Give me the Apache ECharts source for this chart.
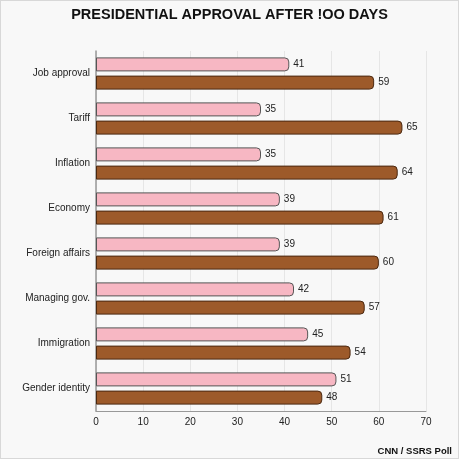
<!DOCTYPE html>
<html><head><meta charset="utf-8">
<script src="https://cdn.jsdelivr.net/npm/echarts@6/dist/echarts.min.js"></script>
<style>html,body{margin:0;padding:0;background:#fff}#c{width:459px;height:459px;box-sizing:border-box;border:1px solid #d8d8d8;background:#f8f8f8}</style>
</head><body><div id="c"></div>
<script>
const categories = ["Job approval","Tariff","Inflation","Economy","Foreign affairs","Managing gov.","Immigration","Gender identity"];
const approve = [41,35,35,39,39,42,45,51];
const disapprove = [59,65,64,61,60,57,54,48];
const xTicks = [0,10,20,30,40,50,60,70];

const chart = echarts.init(document.getElementById('c'), null, {renderer:'canvas'});
const font = 'Liberation Sans, Arial, sans-serif';
chart.setOption({
  backgroundColor: '#f8f8f8',
  animation: false,
  title: [{
    text: 'PRESIDENTIAL APPROVAL AFTER !OO DAYS',
    left: 'center', top: 1,
    textStyle: {fontFamily: font, fontWeight: 'bold', fontSize: 14.5, color: '#111'}
  },{
    text: 'CNN / SSRS Poll',
    right: 1, top: 440,
    textStyle: {fontFamily: font, fontWeight: 'bold', fontSize: 9.5, color: '#111'}
  }],
  grid: {left: 95, right: 32, top: 50, bottom: 47, containLabel: false},
  xAxis: {
    type: 'value', min: xTicks[0], max: xTicks[xTicks.length-1], interval: 10,
    axisLine: {show: true, lineStyle: {color: '#999'}},
    axisTick: {show: false},
    axisLabel: {fontFamily: font, fontSize: 10, color: '#222', margin: 6},
    splitLine: {show: true, lineStyle: {color: '#e6e6e6'}}
  },
  yAxis: {
    type: 'category', data: categories, inverse: true,
    axisLine: {show: true, lineStyle: {color: '#999', width: 1.5}},
    axisTick: {show: false},
    axisLabel: {fontFamily: font, fontSize: 10, color: '#222', margin: 6}
  },
  series: [{
    type: 'bar', data: approve, barWidth: 14, barGap: '30%',
    itemStyle: {color: '#f7b7c3', borderColor: '#555', borderWidth: 1, borderRadius: [0,4,4,0]},
    label: {show: true, position: 'right', fontFamily: font, fontSize: 10, color: '#222', distance: 4}
  },{
    type: 'bar', data: disapprove, barWidth: 14,
    itemStyle: {color: '#9d5a2a', borderColor: '#4a2810', borderWidth: 1, borderRadius: [0,4,4,0]},
    label: {show: true, position: 'right', fontFamily: font, fontSize: 10, color: '#222', distance: 4}
  }]
});
</script></body></html>
